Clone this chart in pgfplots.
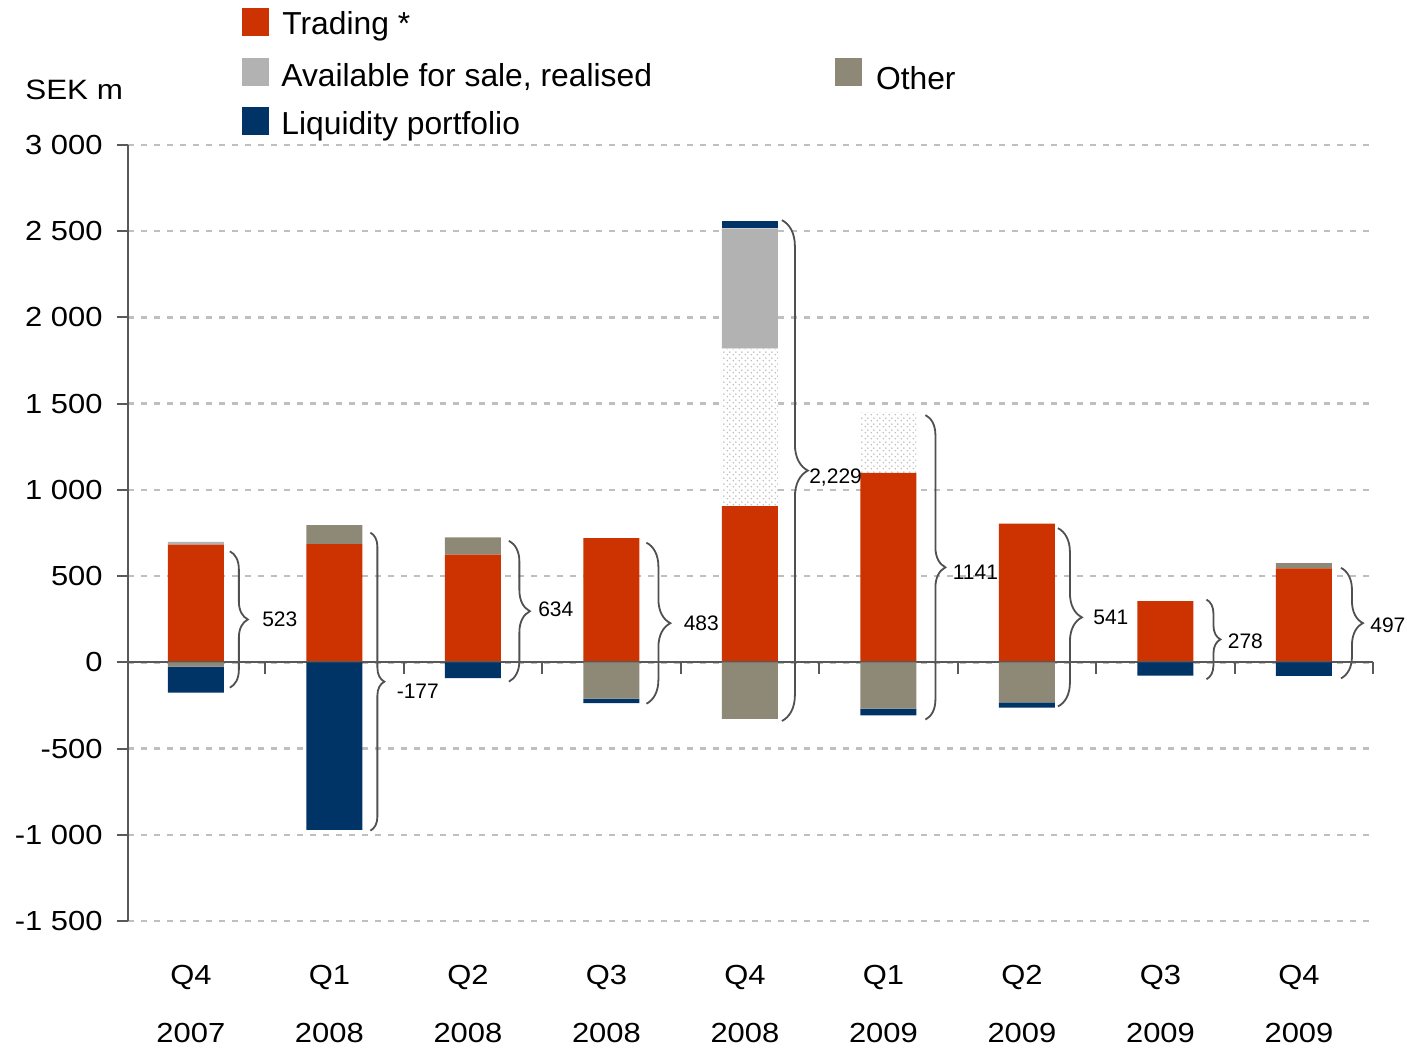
\documentclass[border=0pt]{standalone}
\usepackage{fontspec}
\setmainfont{Liberation Sans}
\newfontfamily\tickfont{Liberation Sans}[FakeStretch=1.12]
\usepackage{pgfplots}
\pgfplotsset{compat=1.18}
\usepackage{pgfplotstable}
\usetikzlibrary{decorations.pathreplacing,patterns}

\definecolor{tradred}{HTML}{CC3300}
\definecolor{afsgray}{HTML}{B2B2B2}
\definecolor{othergray}{HTML}{8E8877}
\definecolor{liqblue}{HTML}{003366}
\definecolor{axisgray}{HTML}{595959}
\definecolor{gridgray}{HTML}{BFBFBF}
\definecolor{dotgray}{HTML}{B8B8B8}
\definecolor{bracegray}{HTML}{505050}

% fine staggered dots for the unrealised part
\pgfdeclarepatternformonly{finedots}{\pgfqpoint{0pt}{0pt}}{\pgfqpoint{3pt}{3pt}}{\pgfqpoint{3pt}{3pt}}{%
  \pgfpathcircle{\pgfqpoint{0.75pt}{0.75pt}}{0.45pt}%
  \pgfpathcircle{\pgfqpoint{2.25pt}{2.25pt}}{0.45pt}%
  \pgfusepath{fill}}

% SEK m per quarter; positive and negative parts stacked separately
\pgfplotstableread{
q trading unreal afs otherpos liqpos otherneg liqneg
0 683 0 15 0 0 -25 -150
1 685 0 0 110 0 0 -972
2 625 0 0 100 0 0 -91
3 720 0 0 0 0 -210 -27
4 906 913 698 0 40 -328 0
5 1098 350 0 0 0 -268 -39
6 804 0 0 0 0 -232 -31
7 355 0 0 0 0 0 -77
8 545 0 0 30 0 0 -78
}\results

\pgfplotsset{resultaxis/.style={
  at={(0,0)}, anchor=south west, scale only axis,
  width=622.6pt, height=388pt,
  xmin=-0.49, xmax=8.5, ymin=-1500, ymax=3000, enlargelimits=false,
  ybar stacked, bar width=28pt, clip=false}}

\newcommand\totalbrace[8]{%
  \draw[bracegray, line width=0.9pt, decorate, decoration={brace, amplitude=#5}]
    ([xshift=#4]axis cs:#1,#2) -- ([xshift=#4]axis cs:#1,#3);
  \node[anchor=west, inner sep=0pt, font=\fontsize{10.5pt}{12pt}\selectfont]
    at ([xshift=#6]axis cs:#1,#7) {#8};}

\begin{document}
\begin{tikzpicture}
\useasboundingbox (-64pt,-65pt) rectangle (639.5pt,460.5pt);

\begin{axis}[resultaxis,
  axis lines*=left, axis line style={-},
  x axis line style={draw=none},
  y axis line style={axisgray, line width=1pt},
  xtick={0,...,8},
  xticklabels={{Q4\\2007},{Q1\\2008},{Q2\\2008},{Q3\\2008},{Q4\\2008},{Q1\\2009},{Q2\\2009},{Q3\\2009},{Q4\\2009}},
  xticklabel style={align=center, anchor=north, inner sep=0pt, yshift=-16.5pt, xshift=-2.5pt,
    font=\tickfont\fontsize{13.8pt}{29pt}\selectfont},
  major x tick style={draw=none},
  ytick={-1500,-1000,...,3000},
  yticklabels={-1 500,-1 000,-500,0,500,1 000,1 500,2 000,2 500,3 000},
  yticklabel style={anchor=east, inner sep=0pt, xshift=-7pt,
    font=\tickfont\fontsize{13.8pt}{16pt}\selectfont},
  tick align=outside, major tick length=5.5pt,
  major y tick style={axisgray, line width=1pt},
  ymajorgrids,
  major grid style={gridgray, line width=1.2pt, dash pattern=on 3pt off 3.5pt},
]
\addplot[fill=tradred, draw=none] table[x=q, y=trading] {\results};
\addplot[fill=white, draw=none, postaction={pattern=finedots, pattern color=dotgray}]
  table[x=q, y=unreal] {\results};
\addplot[fill=afsgray, draw=none] table[x=q, y=afs] {\results};
\addplot[fill=othergray, draw=none] table[x=q, y=otherpos] {\results};
\addplot[fill=liqblue, draw=none] table[x=q, y=liqpos] {\results};
\end{axis}

\begin{axis}[resultaxis, hide axis]
\addplot[fill=othergray, draw=none] table[x=q, y=otherneg] {\results};
\addplot[fill=liqblue, draw=none] table[x=q, y=liqneg] {\results};
% zero line with category separators
\draw[axisgray, line width=1pt] (axis cs:-0.49,0) -- (axis cs:8.5,0);
\draw[axisgray, line width=1pt]
  (axis cs:0.5,0) -- ++(0pt,-6pt) (axis cs:1.5,0) -- ++(0pt,-6pt)
  (axis cs:2.5,0) -- ++(0pt,-6pt) (axis cs:3.5,0) -- ++(0pt,-6pt)
  (axis cs:4.5,0) -- ++(0pt,-6pt) (axis cs:5.5,0) -- ++(0pt,-6pt)
  (axis cs:6.5,0) -- ++(0pt,-6pt) (axis cs:7.5,0) -- ++(0pt,-6pt)
  (axis cs:8.5,0) -- ++(0pt,-6pt);
% quarterly totals
\totalbrace{0}{644}{-147}{17pt}{9pt}{33pt}{250}{523}
\totalbrace{1}{752}{-976}{18pt}{7pt}{31pt}{-167}{-177}
\totalbrace{2}{705}{-112}{18pt}{10.5pt}{32.5pt}{306}{634}
\totalbrace{3}{694}{-240}{17.5pt}{12pt}{36pt}{226}{483}
\totalbrace{4}{2564}{-340}{16pt}{13pt}{29.5pt}{1072}{2,229}
\totalbrace{5}{1434}{-332}{18.5pt}{10pt}{32pt}{525}{1141}
\totalbrace{6}{778}{-256}{15.5pt}{12pt}{33pt}{262}{541}
\totalbrace{7}{364}{-98}{20.5pt}{7pt}{31pt}{124}{278}
\totalbrace{8}{548}{-93}{18.5pt}{11pt}{33pt}{217}{497}
\end{axis}

% unit and legend
\node[anchor=base west, inner sep=0pt, font=\tickfont\fontsize{14pt}{16pt}\selectfont]
  at (-51.5pt,410.5pt) {SEK m};
\begin{scope}[font=\fontsize{15.9pt}{18pt}\selectfont]
\fill[tradred]   (57pt,442.5pt) rectangle ++(13.5pt,13.8pt);
\fill[afsgray]   (57pt,417.7pt) rectangle ++(13.5pt,13.8pt);
\fill[liqblue]   (57pt,393pt)   rectangle ++(13.5pt,13.8pt);
\fill[othergray] (353.5pt,417.7pt) rectangle ++(13.5pt,13.8pt);
\node[anchor=base west, inner sep=0pt] at (77pt,443pt) {Trading *};
\node[anchor=base west, inner sep=0pt] at (76.5pt,417pt) {Available for sale, realised};
\node[anchor=base west, inner sep=0pt] at (76.5pt,393.3pt) {Liquidity portfolio};
\node[anchor=base west, inner sep=0pt] at (373.8pt,415.8pt) {Other};
\end{scope}
\end{tikzpicture}
\end{document}
